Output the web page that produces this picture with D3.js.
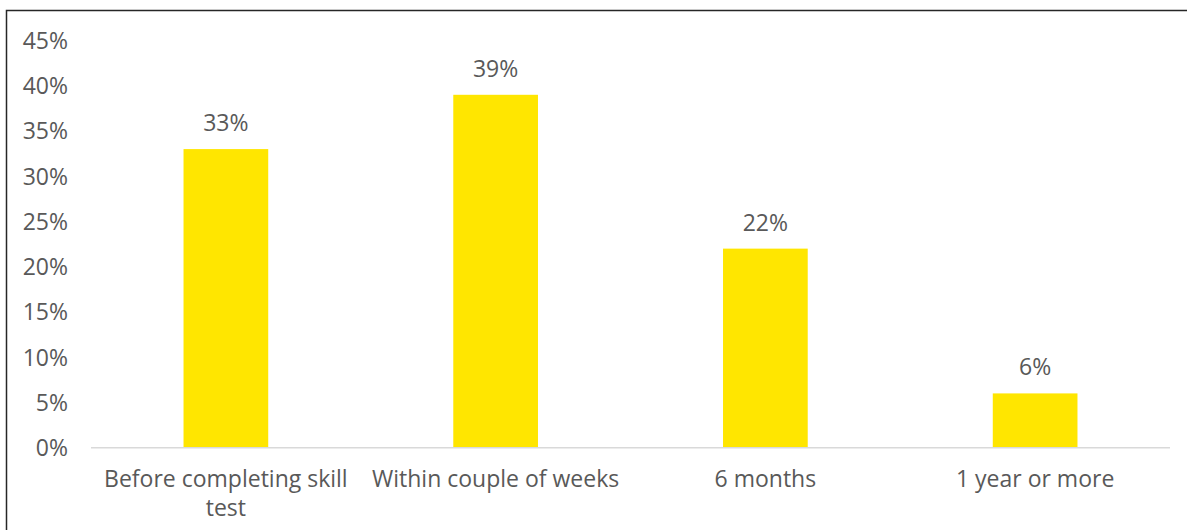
<!DOCTYPE html>
<html>
<head>
<meta charset="utf-8">
<script src="https://cdn.jsdelivr.net/npm/d3@7"></script>
<style>
  html, body { margin: 0; padding: 0; background: #fff; }
  svg { display: block; }
  text { font-family: "Open Sans", sans-serif; fill: #595959; }
</style>
</head>
<body>
<svg id="chart" width="1187" height="530"></svg>
<script>
// Time to get a job offer, share of respondents
const categories = [["Before completing skill", "test"], ["Within couple of weeks"], ["6 months"], ["1 year or more"]];
const shares = [33, 39, 22, 6];
const yTicks = [0, 5, 10, 15, 20, 25, 30, 35, 40, 45];

const W = 1187, H = 530;
const FONT = 23;
const margin = { left: 91, right: 17, top: 40.5, bottom: 82.3 };
const svg = d3.select("#chart");

// outer frame (runs off the right and bottom edges)
svg.append("rect")
  .attr("x", 6.5).attr("y", 10.5)
  .attr("width", W + 10).attr("height", H + 10)
  .attr("fill", "none").attr("stroke", "#262626").attr("stroke-width", 1.5);

const x = d3.scaleBand()
  .domain(d3.range(categories.length))
  .range([margin.left, W - margin.right])
  .paddingInner(0.686).paddingOuter(0.343);

const y = d3.scaleLinear()
  .domain([0, 45])
  .range([H - margin.bottom, margin.top]);

// value axis labels
const yAxis = svg.append("g")
  .attr("transform", `translate(${68},0)`)
  .call(d3.axisLeft(y).tickValues(yTicks).tickFormat(d => d + "%").tickSize(0).tickPadding(0));
yAxis.select(".domain").remove();
yAxis.selectAll("text")
  .attr("dy", "0.34em")
  .attr("font-size", FONT).attr("font-family", "Open Sans, sans-serif").attr("fill", "#595959");

// bars
svg.append("g").selectAll("rect")
  .data(shares)
  .join("rect")
  .attr("x", (d, i) => x(i))
  .attr("y", d => y(d))
  .attr("width", x.bandwidth())
  .attr("height", d => y(0) - y(d))
  .attr("fill", "#FFE600");

// baseline
svg.append("line")
  .attr("x1", margin.left).attr("x2", W - margin.right)
  .attr("y1", y(0)).attr("y2", y(0))
  .attr("stroke", "#d9d9d9").attr("stroke-width", 1.5);

// value labels
svg.append("g").selectAll("text")
  .data(shares)
  .join("text")
  .attr("x", (d, i) => x(i) + x.bandwidth() / 2)
  .attr("y", d => y(d) - 18)
  .attr("text-anchor", "middle")
  .attr("font-size", FONT)
  .text(d => d + "%");

// category labels
const cat = svg.append("g").selectAll("text")
  .data(categories)
  .join("text")
  .attr("x", (d, i) => x(i) + x.bandwidth() / 2)
  .attr("y", y(0) + 39)
  .attr("text-anchor", "middle")
  .attr("font-size", FONT);
cat.selectAll("tspan")
  .data(d => d)
  .join("tspan")
  .attr("x", function () { return this.parentNode.getAttribute("x"); })
  .attr("dy", (d, i) => i === 0 ? 0 : 29)
  .text(d => d);
</script>
</body>
</html>
